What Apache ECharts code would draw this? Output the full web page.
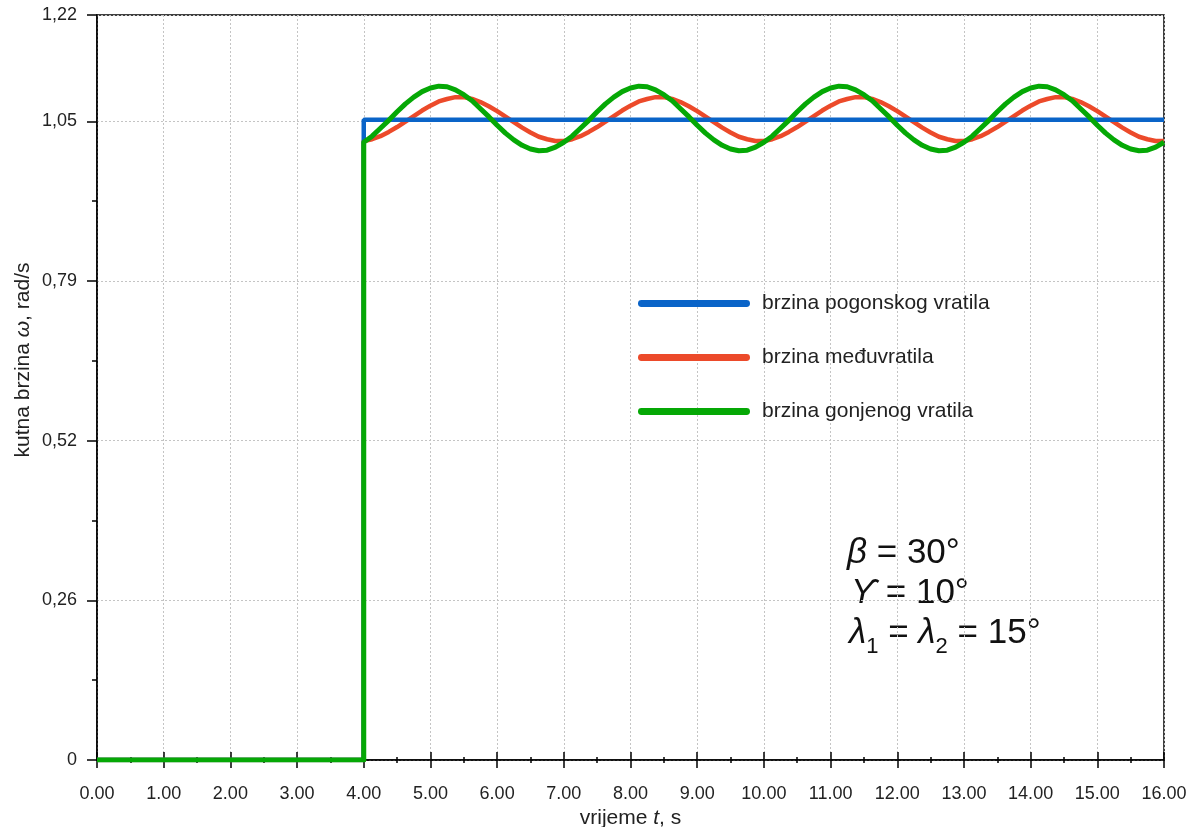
<!DOCTYPE html>
<html>
<head>
<meta charset="utf-8">
<script src="https://cdn.jsdelivr.net/npm/echarts@6/dist/echarts.min.js"></script>
<style>
html, body { margin: 0; padding: 0; background: #fff; }
#chart { width: 1193px; height: 827px; }
</style>
</head>
<body>
<div id="chart"></div>
<script>
// vrijeme t (s) nakon uključenja
var time = [4.000, 4.125, 4.250, 4.375, 4.500, 4.625, 4.750, 4.875,
            5.000, 5.125, 5.250, 5.375, 5.500, 5.625, 5.750, 5.875,
            6.000, 6.125, 6.250, 6.375, 6.500, 6.625, 6.750, 6.875,
            7.000, 7.125, 7.250, 7.375, 7.500, 7.625, 7.750, 7.875,
            8.000, 8.125, 8.250, 8.375, 8.500, 8.625, 8.750, 8.875,
            9.000, 9.125, 9.250, 9.375, 9.500, 9.625, 9.750, 9.875,
            10.000, 10.125, 10.250, 10.375, 10.500, 10.625, 10.750, 10.875,
            11.000, 11.125, 11.250, 11.375, 11.500, 11.625, 11.750, 11.875,
            12.000, 12.125, 12.250, 12.375, 12.500, 12.625, 12.750, 12.875,
            13.000, 13.125, 13.250, 13.375, 13.500, 13.625, 13.750, 13.875,
            14.000, 14.125, 14.250, 14.375, 14.500, 14.625, 14.750, 14.875,
            15.000, 15.125, 15.250, 15.375, 15.500, 15.625, 15.750, 15.875,
            16.000];

// brzina pogonskog vratila (skok u t = 4 s)
var pogonskoTime = [0, 4, 4, 16];
var pogonskoValues = [0, 0, 1.05, 1.05];

// dio prije uključenja (0 rad/s)
var startTime = [0, 4];
var startValues = [0, 0];

// brzina međuvratila
var medjuValues = [
    1.015, 1.018, 1.023, 1.030, 1.038, 1.047, 1.056, 1.065, 1.073, 1.080, 1.084, 1.087,
    1.087, 1.084, 1.079, 1.072, 1.064, 1.055, 1.046, 1.037, 1.029, 1.022, 1.018, 1.015,
    1.015, 1.018, 1.023, 1.030, 1.038, 1.047, 1.056, 1.065, 1.073, 1.080, 1.084, 1.087,
    1.087, 1.084, 1.079, 1.072, 1.064, 1.055, 1.046, 1.037, 1.029, 1.022, 1.018, 1.015,
    1.015, 1.018, 1.023, 1.030, 1.038, 1.047, 1.056, 1.065, 1.073, 1.080, 1.084, 1.087,
    1.087, 1.084, 1.079, 1.072, 1.064, 1.055, 1.046, 1.037, 1.029, 1.022, 1.018, 1.015,
    1.015, 1.018, 1.023, 1.030, 1.038, 1.047, 1.056, 1.065, 1.073, 1.080, 1.084, 1.087,
    1.087, 1.084, 1.079, 1.072, 1.064, 1.055, 1.046, 1.037, 1.029, 1.022, 1.018, 1.015,
    1.015];

// brzina gonjenog vratila
var gonjenoValues = [
    1.013, 1.023, 1.036, 1.049, 1.063, 1.076, 1.087, 1.096, 1.102, 1.105, 1.104, 1.099,
    1.091, 1.081, 1.068, 1.055, 1.041, 1.028, 1.017, 1.008, 1.002, 0.999, 1.000, 1.005,
    1.013, 1.023, 1.036, 1.049, 1.063, 1.076, 1.087, 1.096, 1.102, 1.105, 1.104, 1.099,
    1.091, 1.081, 1.068, 1.055, 1.041, 1.028, 1.017, 1.008, 1.002, 0.999, 1.000, 1.005,
    1.013, 1.023, 1.036, 1.049, 1.063, 1.076, 1.087, 1.096, 1.102, 1.105, 1.104, 1.099,
    1.091, 1.081, 1.068, 1.055, 1.041, 1.028, 1.017, 1.008, 1.002, 0.999, 1.000, 1.005,
    1.013, 1.023, 1.036, 1.049, 1.063, 1.076, 1.087, 1.096, 1.102, 1.105, 1.104, 1.099,
    1.091, 1.081, 1.068, 1.055, 1.041, 1.028, 1.017, 1.008, 1.002, 0.999, 1.000, 1.005,
    1.013];

var yMax = 1.2217;
var yStep = 0.2618;
var yMinorTicks = [0.1309, 0.3927, 0.6545, 0.9163];

var names = ['brzina pogonskog vratila', 'brzina međuvratila', 'brzina gonjenog vratila'];
var colors = ['#0a64c8', '#ec4a2a', '#05a805'];

var fontFam = '"Liberation Sans", Arial, "DejaVu Sans", sans-serif';

function pairs(xs, ys) {
    return xs.map(function (x, i) { return [x, ys[i]]; });
}

var chart = echarts.init(document.getElementById('chart'));

var gridLine = { show: true, lineStyle: { color: '#c4c4c4', type: [2, 2], width: 1 } };
var tickStyle = { color: '#000', width: 1.5 };
var annRich = {
    n: { fontFamily: fontFam, fontSize: 35, fill: '#111' },
    i: { fontFamily: fontFam, fontSize: 35, fill: '#111', fontStyle: 'italic' },
    s: { fontFamily: fontFam, fontSize: 22, fill: '#111', lineHeight: 6, padding: [28, 0, 0, 0] }
};

option = {
    animation: false,
    backgroundColor: '#fff',
    grid: {
        left: 97,
        right: 29,
        top: 15,
        bottom: 67,
        outerBoundsMode: 'none',
        show: true,
        borderColor: '#000',
        borderWidth: 1.5
    },
    legend: {
        left: 638,
        top: 293,
        padding: 0,
        orient: 'vertical',
        itemWidth: 112,
        itemHeight: 7,
        itemGap: 33,
        icon: 'path://M3,0 L109,0 A3.5,3.5 0 0 1 109,7 L3,7 A3.5,3.5 0 0 1 3,0 Z',
        selectedMode: false,
        data: names,
        textStyle: {
            fontFamily: fontFam,
            fontSize: 21,
            color: '#222',
            padding: [0, 0, 0, 7]
        }
    },
    xAxis: [{
        type: 'value',
        min: 0,
        max: 16,
        interval: 1,
        name: '{n|vrijeme }{i|t}{n|, s}',
        nameLocation: 'middle',
        nameGap: 44,
        nameTextStyle: {
            rich: {
                n: { fontFamily: fontFam, fontSize: 21, color: '#222' },
                i: { fontFamily: fontFam, fontSize: 21, color: '#222', fontStyle: 'italic' }
            }
        },
        axisLine: { lineStyle: { color: '#000', width: 1.5 } },
        axisTick: { length: 8, lineStyle: tickStyle },
        minorTick: { show: true, splitNumber: 2, length: 3, lineStyle: tickStyle },
        axisLabel: {
            margin: 25,
            fontFamily: fontFam,
            fontSize: 18,
            color: '#222',
            formatter: function (v) { return v.toFixed(2); }
        },
        splitLine: gridLine
    }, {
        // unutarnji dio oznaka na osi x
        type: 'value',
        min: 0,
        max: 16,
        interval: 1,
        position: 'bottom',
        axisLine: { show: false },
        axisTick: { inside: true, length: 8, lineStyle: tickStyle },
        minorTick: { show: true, splitNumber: 2, length: 3, lineStyle: tickStyle },
        axisLabel: { show: false },
        splitLine: { show: false }
    }],
    yAxis: [{
        type: 'value',
        min: 0,
        max: yMax,
        interval: yStep,
        axisLine: { show: true, lineStyle: { color: '#000', width: 1.5 } },
        axisTick: { show: true, length: 10, lineStyle: tickStyle },
        axisLabel: {
            margin: 20,
            fontFamily: fontFam,
            fontSize: 18,
            color: '#222',
            formatter: function (v) { return v === 0 ? '0' : v.toFixed(2).replace('.', ','); }
        },
        splitLine: gridLine
    }, {
        // male oznake između glavnih
        type: 'value',
        min: 0,
        max: yMax,
        position: 'left',
        axisLine: { show: false },
        axisTick: { show: true, length: 5, customValues: yMinorTicks, lineStyle: tickStyle },
        axisLabel: { show: false },
        splitLine: { show: false }
    }],
    graphic: [{
        type: 'text',
        x: 23,
        y: 360,
        rotation: Math.PI / 2,
        style: {
            text: '{n|kutna brzina }{i|ω}{n|, rad/s}',
            textAlign: 'center',
            textVerticalAlign: 'middle',
            rich: {
                n: { fontFamily: fontFam, fontSize: 21, fill: '#222' },
                i: { fontFamily: fontFam, fontSize: 21, fill: '#222', fontStyle: 'italic' }
            }
        }
    }, {
        type: 'text',
        x: 847,
        y: 553,
        style: { text: '{i|β}{n| = 30°}', textVerticalAlign: 'middle', rich: annRich }
    }, {
        type: 'text',
        x: 851,
        y: 593,
        style: { text: '{i|ϒ}{n| = 10°}', textVerticalAlign: 'middle', rich: annRich }
    }, {
        type: 'text',
        x: 849,
        y: 633,
        style: { text: '{i|λ}{s|1}{n| = }{i|λ}{s|2}{n| = 15°}', textVerticalAlign: 'middle', rich: annRich }
    }],
    series: [{
        name: names[0],
        type: 'line',
        z: 3,
        symbol: 'none',
        color: colors[0],
        lineStyle: { width: 4.5, color: colors[0] },
        data: pairs(pogonskoTime, pogonskoValues)
    }, {
        name: names[1],
        type: 'line',
        z: 2,
        symbol: 'none',
        color: colors[1],
        lineStyle: { width: 4.5, color: colors[1], join: 'round' },
        data: pairs(startTime, startValues).concat(pairs(time, medjuValues))
    }, {
        name: names[2],
        type: 'line',
        z: 4,
        symbol: 'none',
        color: colors[2],
        lineStyle: { width: 5, color: colors[2], join: 'round' },
        data: pairs(startTime, startValues).concat(pairs(time, gonjenoValues))
    }]
};

chart.setOption(option);
</script>
</body>
</html>
